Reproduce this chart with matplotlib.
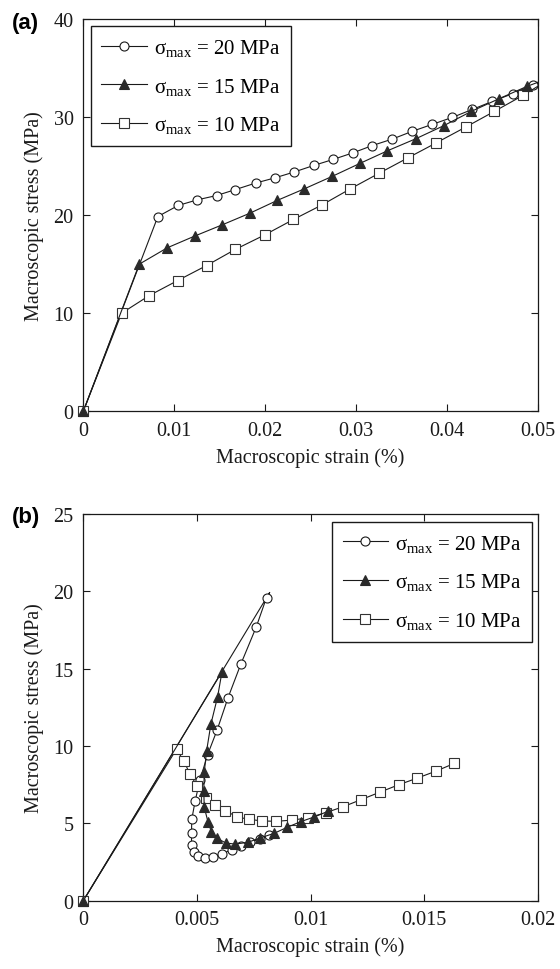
import matplotlib
matplotlib.use("Agg")
import matplotlib.pyplot as plt

plt.rcParams["font.family"] = ["Liberation Serif", "DejaVu Serif"]
plt.rcParams["mathtext.fontset"] = "custom"
plt.rcParams["mathtext.rm"] = "Liberation Serif"
plt.rcParams["mathtext.it"] = "Liberation Serif:italic"
plt.rcParams["mathtext.bf"] = "Liberation Serif:bold"

# ---------------- Panel (a): monotonic loading ----------------
a_x20 = [0, 0.0082, 0.01044, 0.01253, 0.01465, 0.0167, 0.01894, 0.02106, 0.02319,
         0.02535, 0.02747, 0.02967, 0.03179, 0.03399, 0.03615, 0.03835, 0.04059,
         0.04278, 0.04498, 0.04725, 0.04945, 0.05]
a_y20 = [0, 19.86, 20.99, 21.56, 22.0, 22.6, 23.27, 23.8, 24.4, 25.07, 25.68, 26.36,
         27.1, 27.76, 28.54, 29.25, 29.97, 30.78, 31.6, 32.4, 33.3, 33.55]

a_x15 = [0, 0.00615, 0.00923, 0.01223, 0.01527, 0.01832, 0.02132, 0.02432, 0.02736,
         0.0304, 0.03344, 0.03656, 0.03963, 0.04267, 0.04571, 0.04879, 0.05]
a_y15 = [0, 15.0, 16.67, 17.86, 19.01, 20.2, 21.5, 22.69, 23.95, 25.27, 26.56, 27.79,
         29.12, 30.58, 31.87, 33.13, 33.55]

a_x10 = [0, 0.00421, 0.00725, 0.01037, 0.01355, 0.0167, 0.01996, 0.02311, 0.02626,
         0.02938, 0.03256, 0.03571, 0.03883, 0.04205, 0.0452, 0.04835, 0.05]
a_y10 = [0, 10.0, 11.8, 13.33, 14.86, 16.5, 17.99, 19.56, 21.05, 22.69, 24.29, 25.85,
         27.38, 28.98, 30.58, 32.21, 33.15]

# ---------------- Panel (b): loading then softening ----------------
b_x20 = [0, 0.0082, 0.00806, 0.0076, 0.00693, 0.00636, 0.00589, 0.00547, 0.00513,
         0.00492, 0.00477, 0.00476, 0.00476, 0.00486, 0.00505, 0.00535, 0.00571,
         0.00611, 0.00652, 0.00694, 0.00735, 0.00776, 0.00815]
b_y20 = [0, 19.93, 19.6, 17.67, 15.3, 13.1, 11.05, 9.45, 7.8, 6.45, 5.25, 4.4, 3.62,
         3.13, 2.86, 2.78, 2.84, 3.03, 3.3, 3.56, 3.78, 4.01, 4.22]

b_x15 = [0, 0.0061, 0.00591, 0.00561, 0.00542, 0.00532, 0.0053, 0.00532, 0.00548,
         0.00563, 0.00589, 0.00627, 0.00667, 0.00723, 0.00777, 0.0084, 0.00896,
         0.00956, 0.01015, 0.01075]
b_y15 = [0, 14.8, 13.2, 11.4, 9.65, 8.3, 7.06, 6.04, 5.12, 4.47, 4.03, 3.73, 3.66,
         3.77, 4.05, 4.36, 4.74, 5.11, 5.41, 5.77]

b_x10 = [0, 0.0041, 0.00443, 0.0047, 0.00501, 0.00538, 0.00579, 0.00624, 0.00677,
         0.00728, 0.00785, 0.00848, 0.00917, 0.00988, 0.01066, 0.01142, 0.01223,
         0.01307, 0.01388, 0.01468, 0.0155, 0.01631]
b_y10 = [0, 9.8, 9.0, 8.17, 7.4, 6.62, 6.19, 5.82, 5.42, 5.26, 5.16, 5.13, 5.21, 5.35,
         5.69, 6.07, 6.54, 7.03, 7.5, 7.92, 8.37, 8.87]

labels = [r"σ$_{\rm max}$ = 20 MPa", r"σ$_{\rm max}$ = 15 MPa", r"σ$_{\rm max}$ = 10 MPa"]

a_xticks = [0, 0.01, 0.02, 0.03, 0.04, 0.05]
a_xticklabels = ["0", "0.01", "0.02", "0.03", "0.04", "0.05"]
a_yticks = [0, 10, 20, 30, 40]
b_xticks = [0, 0.005, 0.01, 0.015, 0.02]
b_xticklabels = ["0", "0.005", "0.01", "0.015", "0.02"]
b_yticks = [0, 5, 10, 15, 20, 25]

xlabel = "Macroscopic strain (%)"
ylabel = "Macroscopic stress (MPa)"

fig = plt.figure(figsize=(5.6, 9.7), dpi=100)
W, H = 560, 970


def frac_axes(left, top, right, bottom):
    return fig.add_axes([left / W, 1 - bottom / H, (right - left) / W, (bottom - top) / H])


line_kw = dict(color="#1a1a1a", lw=0.8, clip_on=False)
circle_kw = dict(marker="o", markersize=6.5, markerfacecolor="white",
                 markeredgecolor="#1a1a1a", markeredgewidth=0.8, zorder=2)
tri_kw = dict(marker="^", markersize=7.5, markerfacecolor="#2a2a2a",
              markeredgecolor="#2a2a2a", markeredgewidth=0.8, zorder=2.2)
square_kw = dict(marker="s", markersize=6.5, markerfacecolor="white",
                 markeredgecolor="#333333", markeredgewidth=0.8, zorder=2.1)


def style_axes(ax, xticks, xticklabels, yticks, xlim, ylim):
    ax.set_xlim(*xlim)
    ax.set_ylim(*ylim)
    ax.set_xticks(xticks)
    ax.set_xticklabels(xticklabels)
    ax.set_yticks(yticks)
    ax.tick_params(direction="in", top=True, right=True, length=5, width=0.8,
                   labelsize=14.5, pad=7, colors="#1a1a1a")
    for s in ax.spines.values():
        s.set_linewidth(0.9)
        s.set_color("#1a1a1a")
        s.set_zorder(1)
    ax.set_xlabel(xlabel, fontsize=14.5, labelpad=5, color="#1a1a1a")
    ax.set_ylabel(ylabel, fontsize=14.5, labelpad=7, color="#1a1a1a")


def add_legend(ax, handles, loc, anchor):
    leg = ax.legend(handles, labels, loc=loc, bbox_to_anchor=anchor, fontsize=15,
                    frameon=True, fancybox=False, framealpha=1, edgecolor="#1a1a1a",
                    handlelength=2.2, handletextpad=0.3, labelspacing=0.85,
                    borderpad=0.5, borderaxespad=0)
    leg.get_frame().set_linewidth(1.0)
    leg.set_zorder(5)
    return leg


# Panel (a)
ax1 = frac_axes(83.3, 20, 538, 412.3)
h1, = ax1.plot(a_x20, a_y20, markevery=slice(0, -1), **line_kw, **circle_kw)
h2, = ax1.plot(a_x15, a_y15, markevery=slice(0, -1), **line_kw, **tri_kw)
h3, = ax1.plot(a_x10, a_y10, markevery=slice(0, -1), **line_kw, **square_kw)
style_axes(ax1, a_xticks, a_xticklabels, a_yticks, (0, 0.05), (0, 40))
add_legend(ax1, [h1, h2, h3], "upper left", (0.017, 0.981))
fig.text(12 / W, 1 - 23 / H, "(a)", fontsize=16, fontweight="bold",
         family=["Liberation Sans", "DejaVu Sans"], va="center", ha="left")

# Panel (b)
ax2 = frac_axes(83.3, 515, 538, 901.7)
b_marks20 = [0] + list(range(2, len(b_x20)))
h1, = ax2.plot(b_x20, b_y20, markevery=b_marks20, **line_kw, **circle_kw)
h2, = ax2.plot(b_x15, b_y15, **line_kw, **tri_kw)
h3, = ax2.plot(b_x10, b_y10, **line_kw, **square_kw)
style_axes(ax2, b_xticks, b_xticklabels, b_yticks, (0, 0.02), (0, 25))
add_legend(ax2, [h1, h2, h3], "upper right", (0.986, 0.9785))
fig.text(12 / W, 1 - 518 / H, "(b)", fontsize=16, fontweight="bold",
         family=["Liberation Sans", "DejaVu Sans"], va="center", ha="left")

fig.savefig("out.png", dpi=100)
